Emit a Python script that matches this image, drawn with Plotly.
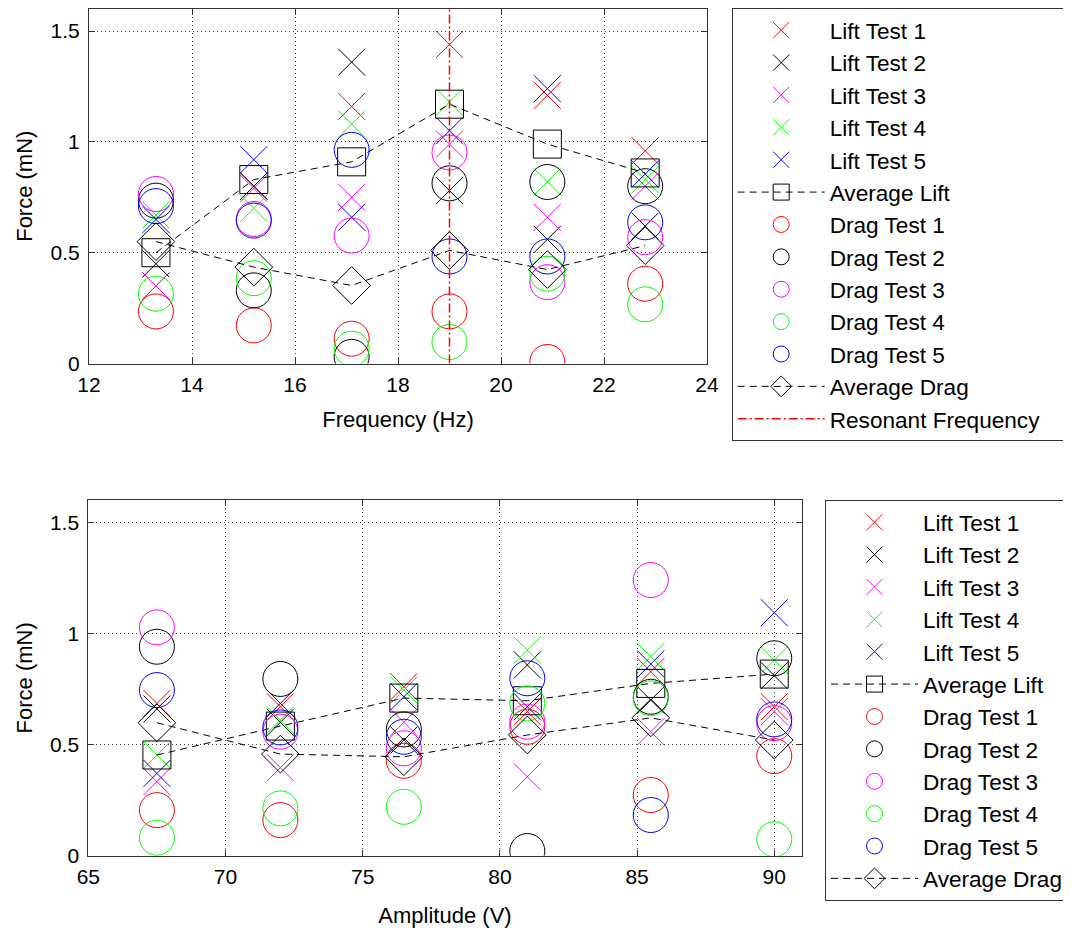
import plotly.graph_objects as go

# ---------------- data ----------------
freq = [13.3, 15.2, 17.1, 19.0, 20.9, 22.8]
lift1_f = [0.35, 0.80, 1.16, 1.44, 1.21, 0.96]
lift2_f = [0.45, 0.80, 1.36, 0.78, 0.56, 0.62]
lift3_f = [0.35, 0.79, 0.75, 0.99, 0.66, 0.80]
lift4_f = [0.67, 0.70, 1.08, 1.18, 0.82, 0.83]
lift5_f = [0.65, 0.92, 0.66, 1.05, 1.24, 0.855]
avg_lift_f = [0.50, 0.83, 0.91, 1.17, 0.99, 0.86]
drag1_f = [0.235, 0.172, 0.112, 0.235, 0.007, 0.36]
drag2_f = [0.735, 0.33, 0.03, 0.813, 0.819, 0.80]
drag3_f = [0.765, 0.652, 0.577, 0.952, 0.367, 0.57]
drag4_f = [0.315, 0.385, 0.067, 0.097, 0.405, 0.267]
drag5_f = [0.71, 0.645, 0.964, 0.483, 0.483, 0.637]
avg_drag_f = [0.55, 0.435, 0.352, 0.51, 0.424, 0.532]
resonant_freq = 19.0

amp = [67.5, 72, 76.5, 81, 85.5, 90]
lift1_a = [0.685, 0.67, 0.76, 0.648, 0.828, 0.67]
lift2_a = [0.66, 0.60, 0.52, 0.858, 0.70, 0.81]
lift3_a = [0.333, 0.396, 0.60, 0.355, 0.558, 0.648]
lift4_a = [0.453, 0.61, 0.745, 0.925, 0.895, 0.88]
lift5_a = [0.37, 0.685, 0.715, 0.67, 0.862, 1.093]
avg_lift_a = [0.453, 0.583, 0.709, 0.697, 0.775, 0.817]
drag1_a = [0.205, 0.16, 0.427, 0.58, 0.273, 0.448]
drag2_a = [0.94, 0.795, 0.568, 0.021, 0.715, 0.888]
drag3_a = [1.027, 0.558, 0.483, 0.603, 1.24, 0.596]
drag4_a = [0.081, 0.213, 0.22, 0.685, 0.708, 0.074]
drag5_a = [0.745, 0.577, 0.535, 0.798, 0.183, 0.613]
avg_drag_a = [0.598, 0.457, 0.445, 0.543, 0.62, 0.52]

test_colors = ["#ff0000", "#000000", "#ff00ff", "#00ff00", "#0000ff"]
FONT = "Liberation Sans, Arial, sans-serif"
NBSP = "\u00a0"
# page body has an 8px margin, so the figure is 8px smaller than the window
OFF = 8
W, H = 1071 - OFF, 928 - OFF


def xp(px):
    return min(1.0, max(0.0, (px - OFF) / W))


def yp(py):
    return min(1.0, max(0.0, 1 - (py - OFF) / H))


fig = go.Figure()


def add_panel(x, lifts, avg_lift, drags, avg_drag, xa, ya, leg):
    for i, ys in enumerate(lifts):
        fig.add_trace(go.Scatter(
            x=x, y=ys, mode="markers", name=f"Lift Test {i+1}",
            marker=dict(symbol="x-thin-open", size=27, color=test_colors[i],
                        line=dict(color=test_colors[i], width=1)),
            xaxis=xa, yaxis=ya, legend=leg))
    fig.add_trace(go.Scatter(
        x=x, y=avg_lift, mode="lines+markers", name="Average Lift",
        line=dict(color="#000000", width=1, dash="7px,5px"),
        marker=dict(symbol="square-open", size=28, color="#000000",
                    line=dict(color="#000000", width=1)),
        xaxis=xa, yaxis=ya, legend=leg))
    for i, ys in enumerate(drags):
        fig.add_trace(go.Scatter(
            x=x, y=ys, mode="markers", name=f"Drag Test {i+1}",
            marker=dict(symbol="circle-open", size=35, color=test_colors[i],
                        line=dict(color=test_colors[i], width=1)),
            xaxis=xa, yaxis=ya, legend=leg))
    fig.add_trace(go.Scatter(
        x=x, y=avg_drag, mode="lines+markers", name="Average Drag",
        line=dict(color="#000000", width=1, dash="7px,5px"),
        marker=dict(symbol="diamond-open", size=29, color="#000000",
                    line=dict(color="#000000", width=1)),
        xaxis=xa, yaxis=ya, legend=leg))


add_panel(freq, [lift1_f, lift2_f, lift3_f, lift4_f, lift5_f], avg_lift_f,
          [drag1_f, drag2_f, drag3_f, drag4_f, drag5_f], avg_drag_f, "x", "y", "legend")
fig.add_trace(go.Scatter(
    x=[resonant_freq, resonant_freq], y=[0, 1.6], mode="lines",
    name="Resonant Frequency" + NBSP * 4,
    line=dict(color="#ff0000", width=1.5, dash="9px,3px,2px,3px"),
    xaxis="x", yaxis="y", legend="legend"))

add_panel(amp, [lift1_a, lift2_a, lift3_a, lift4_a, lift5_a], avg_lift_a,
          [drag1_a, drag2_a, drag3_a, drag4_a, drag5_a], avg_drag_a, "x2", "y2", "legend2")

axis_common = dict(
    showline=True, linecolor="#333333", linewidth=1, mirror="allticks",
    ticks="inside", ticklen=6, tickcolor="#333333",
    showgrid=True, gridcolor="#444444", gridwidth=1, griddash="1px,3px",
    zeroline=False, tickfont=dict(family=FONT, size=21, color="black"),
)
title_font = dict(family=FONT, size=22, color="black")

legend_common = dict(
    xanchor="left", yanchor="top", bgcolor="white", bordercolor="#333333",
    borderwidth=1, font=dict(family=FONT, size=22.6, color="black"),
    itemwidth=87, tracegroupgap=0, itemclick=False,
)

fig.update_layout(
    width=W, height=H,
    margin=dict(l=0, r=0, t=0, b=0, autoexpand=False),
    paper_bgcolor="white", plot_bgcolor="white",
    font=dict(family=FONT, color="black"),
    xaxis=dict(axis_common, domain=[xp(89), xp(707)], anchor="y",
               range=[12, 24], dtick=2, tick0=12, ticklabelstandoff=2,
               title=dict(text="Frequency (Hz)", font=title_font, standoff=16)),
    yaxis=dict(axis_common, domain=[yp(363.5), 0.999], anchor="x",
               range=[0, 1.6], tickvals=[0, 0.5, 1, 1.5], ticklabelstandoff=4,
               title=dict(text="Force (mN)", font=title_font, standoff=11)),
    xaxis2=dict(axis_common, domain=[xp(88.3), xp(801.7)], anchor="y2",
                range=[65, 91], dtick=5, tick0=65, ticklabelstandoff=2,
                title=dict(text="Amplitude (V)", font=title_font, standoff=20)),
    yaxis2=dict(axis_common, domain=[yp(855.7), yp(500)], anchor="x2",
                range=[0, 1.6], tickvals=[0, 0.5, 1, 1.5], ticklabelstandoff=4,
                title=dict(text="Force (mN)", font=title_font, standoff=11)),
    legend=dict(legend_common, x=xp(731.7), y=1.0),
    legend2=dict(legend_common, x=xp(825), y=yp(500)),
    showlegend=True,
)

fig.write_html("out.html")
